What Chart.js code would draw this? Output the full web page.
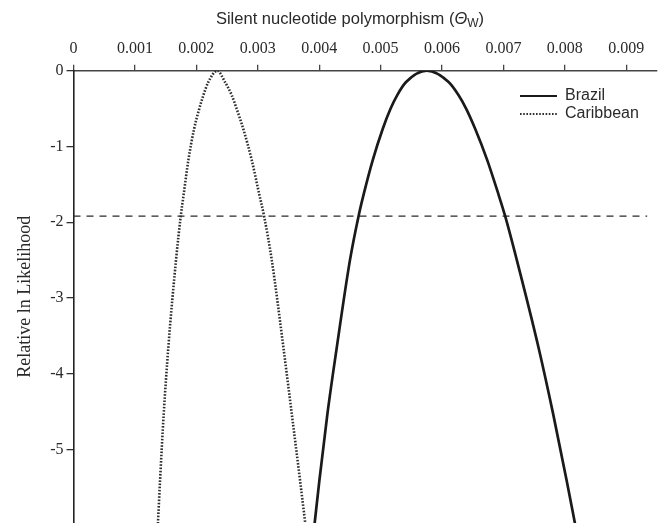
<!DOCTYPE html>
<html>
<head>
<meta charset="utf-8">
<script src="https://cdn.jsdelivr.net/npm/chart.js@4/dist/chart.umd.min.js"></script>
<style>
html,body{margin:0;padding:0;background:#fff;}
canvas{display:block;}
</style>
</head>
<body>
<canvas id="c" width="659" height="523"></canvas>
<script>
// ---- data ----
const xTickValues = [0, 0.001, 0.002, 0.003, 0.004, 0.005, 0.006, 0.007, 0.008, 0.009];
const xTickLabels = ["0", "0.001", "0.002", "0.003", "0.004", "0.005", "0.006", "0.007", "0.008", "0.009"];
const yTickValues = [0, -1, -2, -3, -4, -5];
const yTickLabels = ["0", "-1", "-2", "-3", "-4", "-5"];

const seriesNames = ["Brazil", "Caribbean"];

const brazilTheta = [0.003920, 0.004003, 0.004134, 0.004287, 0.004501, 0.004641, 0.004728, 0.004872, 0.005034, 0.005163, 0.005269, 0.005415,
                     0.005752,
                     0.006107, 0.006270, 0.006392, 0.006541, 0.006736, 0.006914, 0.007028, 0.007218, 0.007570, 0.007809, 0.008029, 0.008175];
const brazilLnL   = [-6.02, -5.41, -4.53, -3.65, -2.50, -1.92, -1.62, -1.18, -0.77, -0.50, -0.325, -0.15,
                     0,
                     -0.15, -0.325, -0.50, -0.77, -1.18, -1.62, -1.92, -2.50, -3.65, -4.53, -5.41, -6.02];

const caribTheta  = [0.001372, 0.001409, 0.001469, 0.001544, 0.001669, 0.001746, 0.001796, 0.001870, 0.001963, 0.002033, 0.002114, 0.002195,
                     0.002342,
                     0.002467, 0.002577, 0.002674, 0.002765, 0.002902, 0.003021, 0.003103, 0.003228, 0.003417, 0.003554, 0.003689, 0.003780];
const caribLnL    = [-6.02, -5.41, -4.53, -3.65, -2.50, -1.92, -1.62, -1.18, -0.77, -0.545, -0.325, -0.15,
                     0,
                     -0.15, -0.325, -0.545, -0.77, -1.18, -1.62, -1.92, -2.50, -3.65, -4.53, -5.41, -6.02];

const cutoffTheta = [0, 0.00934];
const cutoffLnL   = [-1.92, -1.92];

const xRange = [0, 0.0095];
const yRange = [-5.97, 0];

// ---- build chart ----
const toPts = (xs, ys) => xs.map((x, i) => ({x: x, y: ys[i]}));
const ink = '#2a2a2a';

const titlePlugin = {
  id: 'topTitle',
  afterDraw(chart) {
    const ctx = chart.ctx;
    ctx.save();
    ctx.fillStyle = ink;
    ctx.textBaseline = 'alphabetic';
    const base = 'Silent nucleotide polymorphism (';
    const f1 = '16.5px "Liberation Sans", Arial, sans-serif';
    const f2 = 'italic 16.5px "Liberation Sans", Arial, sans-serif';
    const f3 = '12px "Liberation Sans", Arial, sans-serif';
    ctx.font = f1; const w1 = ctx.measureText(base).width; const wp = ctx.measureText(')').width;
    ctx.font = f2; const w2 = ctx.measureText('\u0398').width;
    ctx.font = f3; const w3 = ctx.measureText('W').width;
    const total = w1 + w2 + w3 + wp;
    const cx = 350;
    let x = cx - total / 2; const y = 24;
    ctx.font = f1; ctx.fillText(base, x, y); x += w1;
    ctx.font = f2; ctx.fillText('\u0398', x, y); x += w2;
    ctx.font = f3; ctx.fillText('W', x, y + 3); x += w3;
    ctx.font = f1; ctx.fillText(')', x, y);
    ctx.restore();
  }
};

const legendPlugin = {
  id: 'customLegend',
  afterDraw(chart) {
    const ctx = chart.ctx;
    ctx.save();
    [0, 1].forEach((di, row) => {
      const ds = chart.data.datasets[di];
      const y = 96 + row * 18;
      ctx.strokeStyle = ds.borderColor;
      ctx.lineWidth = ds.borderWidth * 0.8;
      ctx.setLineDash(ds.borderDash || []);
      ctx.beginPath(); ctx.moveTo(520, y); ctx.lineTo(557, y); ctx.stroke();
      ctx.setLineDash([]);
      ctx.fillStyle = ink;
      ctx.font = '16px "Liberation Sans", Arial, sans-serif';
      ctx.textBaseline = 'middle';
      ctx.fillText(ds.label, 565, y);
    });
    ctx.restore();
  }
};

new Chart(document.getElementById('c'), {
  type: 'scatter',
  data: {
    datasets: [
      {
        label: seriesNames[0],
        data: toPts(brazilTheta, brazilLnL),
        showLine: true, pointRadius: 0, borderColor: '#1a1a1a', borderWidth: 2.7,
        cubicInterpolationMode: 'monotone'
      },
      {
        label: seriesNames[1],
        data: toPts(caribTheta, caribLnL),
        showLine: true, pointRadius: 0, borderColor: '#2e2e2e', borderWidth: 2.6,
        borderDash: [1.6, 1.6], cubicInterpolationMode: 'monotone'
      },
      {
        label: 'cutoff',
        data: toPts(cutoffTheta, cutoffLnL),
        showLine: true, pointRadius: 0, borderColor: '#2a2a2a', borderWidth: 1.3,
        borderDash: [7, 6]
      }
    ]
  },
  options: {
    responsive: false,
    animation: false,
    events: [],
    layout: { padding: { left: 0, right: 2, top: 0, bottom: 0 } },
    plugins: { legend: { display: false }, tooltip: { enabled: false }, title: { display: false } },
    scales: {
      x: {
        type: 'linear', position: 'top', min: xRange[0], max: xRange[1],
        afterFit(s) { s.height = 70.7; s.paddingLeft = 0; s.paddingRight = 0; },
        afterBuildTicks(s) { s.ticks = xTickValues.map(v => ({value: v})); },
        grid: { drawOnChartArea: false, drawTicks: true, tickLength: 6, color: '#444', lineWidth: 1.3 },
        border: { display: true, color: '#444', width: 1.6 },
        ticks: {
          padding: 6, color: ink, maxRotation: 0, autoSkip: false,
          font: { family: '"Liberation Serif", "Times New Roman", serif', size: 16 },
          callback: (v, i) => xTickLabels[i]
        }
      },
      y: {
        type: 'linear', min: yRange[0], max: yRange[1],
        afterFit(s) { s.width = 73.5; s.paddingTop = 0; s.paddingBottom = 0; },
        afterBuildTicks(s) { s.ticks = yTickValues.map(v => ({value: v})); },
        grid: { drawOnChartArea: false, drawTicks: true, tickLength: 7, color: '#333', lineWidth: 1.3 },
        border: { display: true, color: '#222', width: 1.6 },
        title: {
          display: true, text: 'Relative ln Likelihood', color: ink, padding: { top: 14, bottom: 0 },
          font: { family: '"Liberation Serif", "Times New Roman", serif', size: 18 }
        },
        ticks: {
          padding: 3, color: ink, autoSkip: false,
          font: { family: '"Liberation Serif", "Times New Roman", serif', size: 16 },
          callback: (v, i) => yTickLabels[i]
        }
      }
    }
  },
  plugins: [titlePlugin, legendPlugin]
});
</script>
</body>
</html>
